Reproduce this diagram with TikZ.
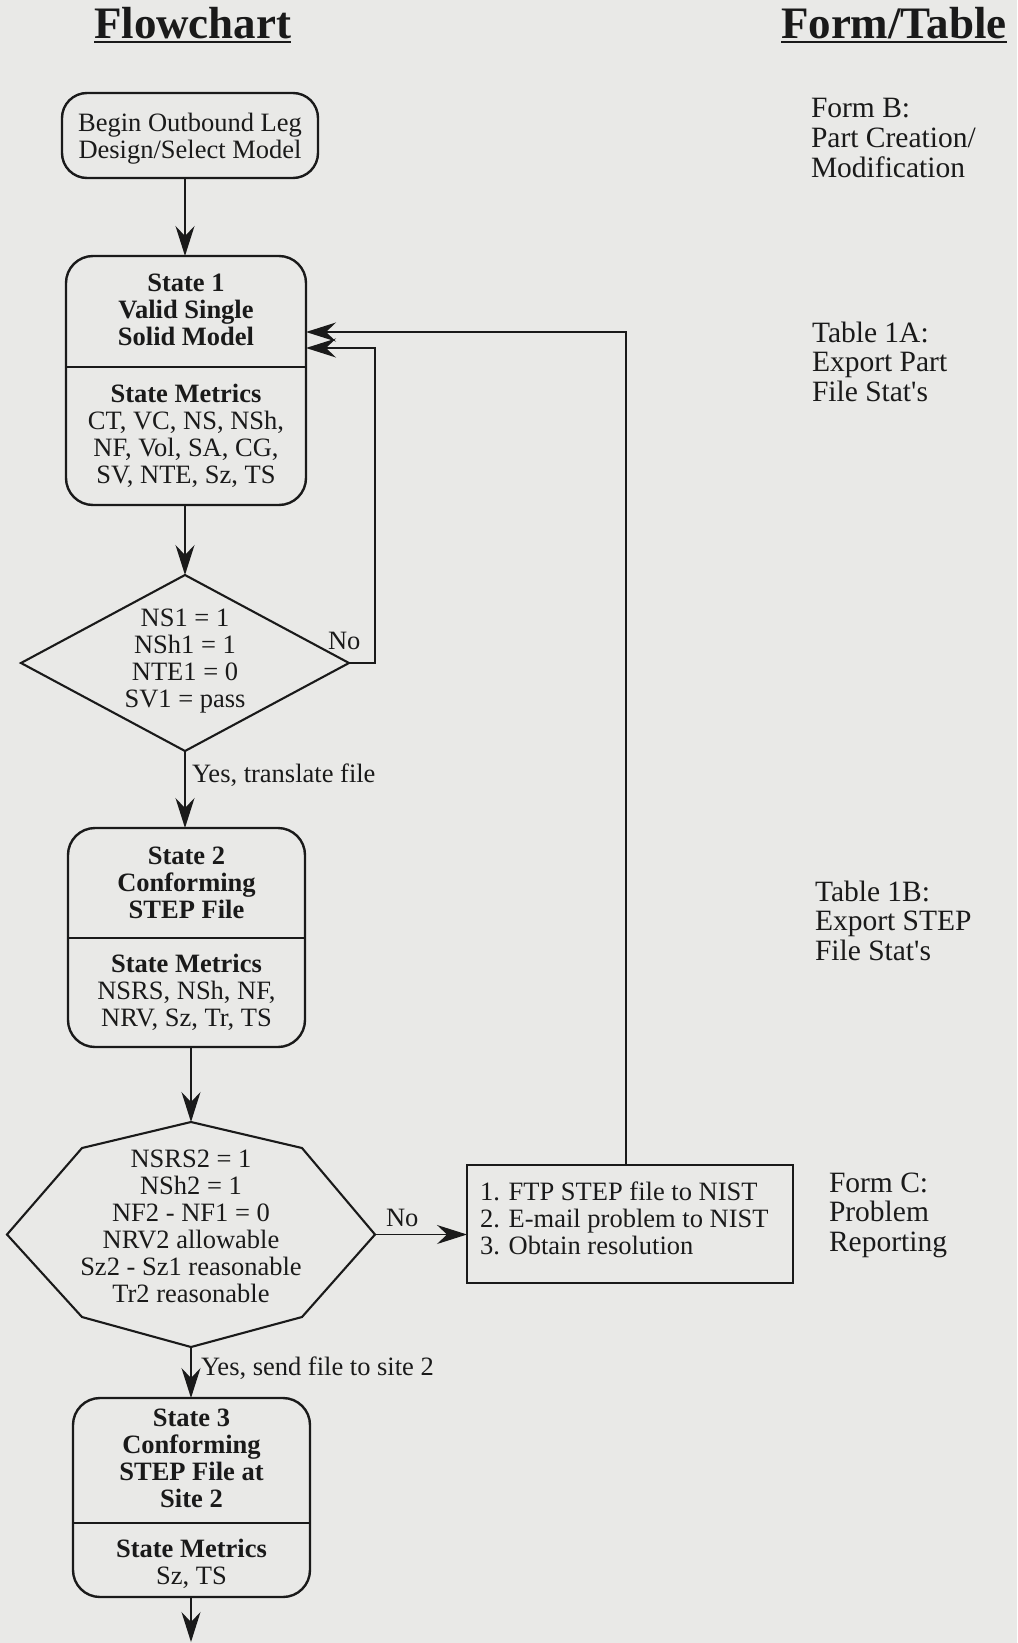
\documentclass[tikz,border=0pt]{standalone}
\usepackage{fontspec}
\setmainfont{Liberation Serif}
\usetikzlibrary{arrows.meta,shapes.geometric,calc}
\definecolor{bg}{RGB}{233,233,231}
\definecolor{ink}{RGB}{26,26,26}
\newcommand\bstr{\rule[-7pt]{0pt}{27pt}}
\newcommand\rstr{\rule[-8.5pt]{0pt}{29.5pt}}
\begin{document}
\begin{tikzpicture}[x=1pt,y=-1pt,
  every node/.style={inner sep=0pt, outer sep=0pt, text=ink},
  boxtext/.style={font=\fontsize{26.5}{27}\selectfont, align=center, anchor=north},
  boldtext/.style={font=\fontsize{26.5}{27}\selectfont\bfseries, align=center, anchor=north},
  lab/.style={font=\fontsize{26.5}{27}\selectfont, anchor=base west},
  rtext/.style={font=\fontsize{29.5}{29.5}\selectfont, align=left, anchor=north west},
  titletext/.style={font=\fontsize{45}{50}\selectfont\bfseries, anchor=base west},
  roundbox/.style={draw=ink, line width=2.4pt, rounded corners=27pt},
  boxline/.style={draw=ink, line width=2.4pt},
  shapeline/.style={draw=ink, line width=2.1pt, line join=miter},
  conn/.style={draw=ink, line width=1.3pt, -{Stealth[length=30pt,width=19pt,inset=10pt]}}
]
\fill[bg] (0,0) rectangle (1017,1643);
\useasboundingbox (0,0) rectangle (1017,1643);

% titles
\node[titletext] (tflow) at (94,39) {Flowchart};
\node[titletext] (tform) at (781,39) {Form/Table};
\draw[boxline] ([yshift=-3pt]tflow.base west) -- ([yshift=-3pt]tflow.base east);
\draw[boxline] ([yshift=-3pt]tform.base west) -- ([yshift=-3pt]tform.base east);

% begin box
\node[roundbox, rounded corners=25pt, minimum width=256pt, minimum height=85pt] (begin) at (190,135.5) {};
\node[boxtext] (begint) at (190,111) {\bstr Begin Outbound Leg\\\bstr Design/Select Model};

% state 1
\node[roundbox, minimum width=240pt, minimum height=249pt] (s1) at (186,380.5) {};
\coordinate (s1div) at (0,367);
\draw[boxline] (s1.west |- s1div) -- (s1.east |- s1div);
\node[boldtext] (s1t) at (186,271) {\bstr State 1\\\bstr Valid Single\\\bstr Solid Model};
\node[boxtext] (s1m) at (186,382) {\bstr\textbf{State Metrics}\\\bstr CT, VC, NS, NSh,\\\bstr NF, Vol, SA, CG,\\\bstr SV, NTE, Sz, TS};

% decision 1
\node[diamond, shapeline, minimum width=328pt, minimum height=176pt] (d1) at (185,663) {};
\node[boxtext] (d1t) at (185,606) {\bstr NS1 = 1\\\bstr NSh1 = 1\\\bstr NTE1 = 0\\\bstr SV1 = pass};

% state 2
\node[roundbox, minimum width=237pt, minimum height=219pt] (s2) at (186.5,937.5) {};
\coordinate (s2div) at (0,938);
\draw[boxline] (s2.west |- s2div) -- (s2.east |- s2div);
\node[boldtext] (s2t) at (186.5,844) {\bstr State 2\\\bstr Conforming\\\bstr STEP File};
\node[boxtext] (s2m) at (186.5,952) {\bstr\textbf{State Metrics}\\\bstr NSRS, NSh, NF,\\\bstr NRV, Sz, Tr, TS};

% decision 2 (octagon)
\node[minimum width=368pt, minimum height=225pt] (hex) at (191,1234.5) {};
\draw[shapeline] (hex.north) -- ($(hex.center)+(111,-86.5)$) -- (hex.east)
  -- ($(hex.center)+(111,82.5)$) -- (hex.south) -- ($(hex.center)+(-109,82.5)$)
  -- (hex.west) -- ($(hex.center)+(-109,-86.5)$) -- cycle;
\node[boxtext] (hext) at (191,1147) {\bstr NSRS2 = 1\\\bstr NSh2 = 1\\\bstr NF2 - NF1 = 0\\\bstr NRV2 allowable\\\bstr Sz2 - Sz1 reasonable\\\bstr Tr2 reasonable};

% problem box
\node[draw=ink, line width=2.6pt, minimum width=326pt, minimum height=118pt] (nist) at (630,1224) {};
\node[boxtext, align=left, anchor=north west] (nistt) at (480,1180) {\bstr 1. FTP STEP file to NIST\\\bstr 2. E-mail problem to NIST\\\bstr 3. Obtain resolution};

% state 3
\node[roundbox, minimum width=237pt, minimum height=199pt] (s3) at (191.5,1497.5) {};
\coordinate (s3div) at (0,1523);
\draw[boxline] (s3.west |- s3div) -- (s3.east |- s3div);
\node[boldtext] (s3t) at (191.5,1406) {\bstr State 3\\\bstr Conforming\\\bstr STEP File at\\\bstr Site 2};
\node[boxtext] (s3m) at (191.5,1537) {\bstr\textbf{State Metrics}\\\bstr Sz, TS};

% connectors
\coordinate (endpt) at (191,1642);
\coordinate (fbA) at (0,332);
\coordinate (fbx) at (375,348);
\coordinate (nistup) at ($(nist.north)+(-4,0)$);
\draw[conn] (begin.south -| d1.north) -- (s1.north -| d1.north);
\draw[conn] (s1.south -| d1.north) -- (d1.north);
\draw[conn] (d1.south) -- (s2.north -| d1.south);
\draw[conn] (s2.south -| hex.north) -- (hex.north);
\draw[conn] (hex.south) -- (s3.north -| hex.south);
\draw[conn] (s3.south -| hex.south) -- (endpt);
\draw[conn] (hex.east) -- (hex.east -| nist.west);
\draw[conn] (nistup) |- (s1.east |- fbA);
\draw[conn] (d1.east) -| (fbx) -- (s1.east |- fbx);

% labels
\node[lab] (no1) at (328,649) {No};
\node[lab] (no2) at (386,1226) {No};
\node[lab] (yes1) at (192,782) {Yes, translate file};
\node[lab] (yes2) at (201,1375) {Yes, send file to site 2};

% right column
\node[rtext] (formb) at (811,97) {\rstr Form B:\\\rstr Part Creation/\\\rstr Modification};
\node[rtext] (tab1a) at (812,321) {\rstr Table 1A:\\\rstr Export Part\\\rstr File Stat\textquotesingle s};
\node[rtext] (tab1b) at (815,880) {\rstr Table 1B:\\\rstr Export STEP\\\rstr File Stat\textquotesingle s};
\node[rtext] (formc) at (829,1171) {\rstr Form C:\\\rstr Problem\\\rstr Reporting};
\end{tikzpicture}
\end{document}
